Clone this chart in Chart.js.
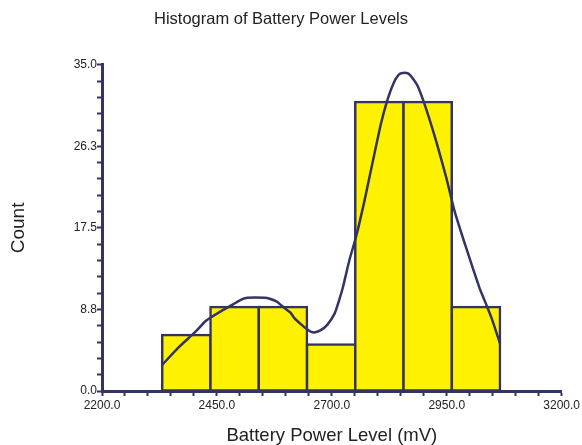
<!DOCTYPE html>
<html>
<head>
<meta charset="utf-8">
<script src="https://cdn.jsdelivr.net/npm/chart.js@4/dist/chart.umd.min.js"></script>
<style>
  html, body { margin: 0; padding: 0; background: #fff; }
  canvas { display: block; }
</style>
</head>
<body>
<canvas id="chart" width="582" height="445"></canvas>
<script>
const TITLE = "Histogram of Battery Power Levels";
const X_TITLE = "Battery Power Level (mV)";
const Y_TITLE = "Count";

// histogram bins (centres, width 105 mV) and counts
const binCenters = [2383.5, 2488.5, 2593.5, 2698.5, 2803.5, 2908.5, 3013.5];
const binCounts = [6, 9, 9, 5, 31, 31, 9];

// density curve
const curveX = [2331, 2365, 2400, 2412, 2423, 2434, 2460, 2485, 2503, 2517, 2554, 2565,
  2580, 2597, 2610, 2619, 2632, 2644, 2655, 2664, 2675, 2690, 2706, 2715, 2724, 2738,
  2753, 2771, 2789, 2807, 2822, 2836, 2845, 2851, 2865, 2872, 2887, 2905, 2927, 2949,
  2967, 2992, 3021, 3035, 3047, 3066];
const curveY = [2.8, 4.6, 6.2, 6.8, 7.4, 7.8, 8.6, 9.3, 9.8, 10.0, 10.0, 9.9,
  9.6, 8.9, 8.4, 7.8, 7.2, 6.7, 6.35, 6.3, 6.5, 7.1, 8.3, 9.6, 11.1, 14.0,
  16.6, 20.4, 24.6, 28.7, 31.4, 33.2, 33.9, 34.1, 34.1, 33.8, 32.7, 30.3, 26.8, 22.9,
  19.3, 15.4, 11.1, 9.4, 7.9, 5.1];

// axes
const xMajorTicks = [2200, 2450, 2700, 2950, 3200];
const xTickLabels = ["2200.0", "2450.0", "2700.0", "2950.0", "3200.0"];
const yMajorTicks = [0, 8.75, 17.5, 26.25, 35];
const yTickLabels = ["0.0", "8.8", "17.5", "26.3", "35.0"];

const NAVY = "#333366";
const YELLOW = "#fff200";
const TEXT = "#222222";
const FONT = "'Liberation Sans', Arial, sans-serif";

function majorLabel(value, majors, labels) {
  const i = majors.findIndex(m => Math.abs(m - value) < 1e-6);
  return i >= 0 ? labels[i] : "";
}

new Chart(document.getElementById("chart"), {
  type: "bar",
  data: {
    datasets: [
      {
        type: "line",
        data: curveX.map((x, i) => ({ x, y: curveY[i] })),
        xAxisID: "x",
        borderColor: NAVY,
        borderWidth: 2.5,
        pointRadius: 0,
        tension: 0.2,
        fill: false,
        order: 0
      },
      {
        type: "bar",
        data: binCenters.map((x, i) => ({ x, y: binCounts[i] })),
        xAxisID: "xb",
        backgroundColor: YELLOW,
        borderColor: NAVY,
        borderWidth: 2.5,
        borderSkipped: false,
        inflateAmount: 1.25,
        barPercentage: 1,
        categoryPercentage: 1,
        grouped: false,
        order: 1
      }
    ]
  },
  options: {
    responsive: false,
    animation: false,
    layout: { padding: { left: 0, right: 20, top: 0, bottom: 0 } },
    plugins: {
      legend: { display: false },
      tooltip: { enabled: false },
      title: {
        display: true,
        text: TITLE,
        color: TEXT,
        font: { family: FONT, size: 16.5, weight: "normal", lineHeight: 1.2 },
        padding: { top: 10, bottom: 35 }
      }
    },
    scales: {
      x: {
        type: "linear",
        position: "bottom",
        offset: false,
        min: 2200,
        max: 3200,
        border: { display: true, color: NAVY, width: 3 },
        grid: { offset: false, drawOnChartArea: false, drawTicks: true, tickLength: 5, tickColor: NAVY, tickWidth: 2 },
        ticks: {
          stepSize: 50,
          autoSkip: false,
          maxRotation: 0,
          padding: 2,
          color: TEXT,
          font: { family: FONT, size: 12 },
          callback: v => majorLabel(v, xMajorTicks, xTickLabels)
        },
        title: {
          display: true,
          text: X_TITLE,
          color: TEXT,
          font: { family: FONT, size: 18.5, lineHeight: 1 },
          padding: { top: 0, bottom: 0 }
        },
        afterFit: s => { s.height = 54; }
      },
      xb: {
        type: "linear",
        position: "bottom",
        display: false,
        offset: false,
        min: 2200,
        max: 3200,
        afterBuildTicks: s => { s.ticks = []; }
      },
      y: {
        type: "linear",
        min: 0,
        max: 35,
        border: { display: true, color: NAVY, width: 3 },
        grid: { drawOnChartArea: false, drawTicks: true, tickLength: 5, tickColor: NAVY, tickWidth: 2 },
        ticks: {
          stepSize: 1.75,
          autoSkip: false,
          padding: 0,
          color: TEXT,
          font: { family: FONT, size: 12 },
          callback: v => majorLabel(v, yMajorTicks, yTickLabels)
        },
        title: {
          display: true,
          text: Y_TITLE,
          color: TEXT,
          font: { family: FONT, size: 19, lineHeight: 1 },
          padding: { top: 9, bottom: 0 }
        },
        afterFit: s => { s.width = 102; }
      }
    }
  }
});
</script>
</body>
</html>
